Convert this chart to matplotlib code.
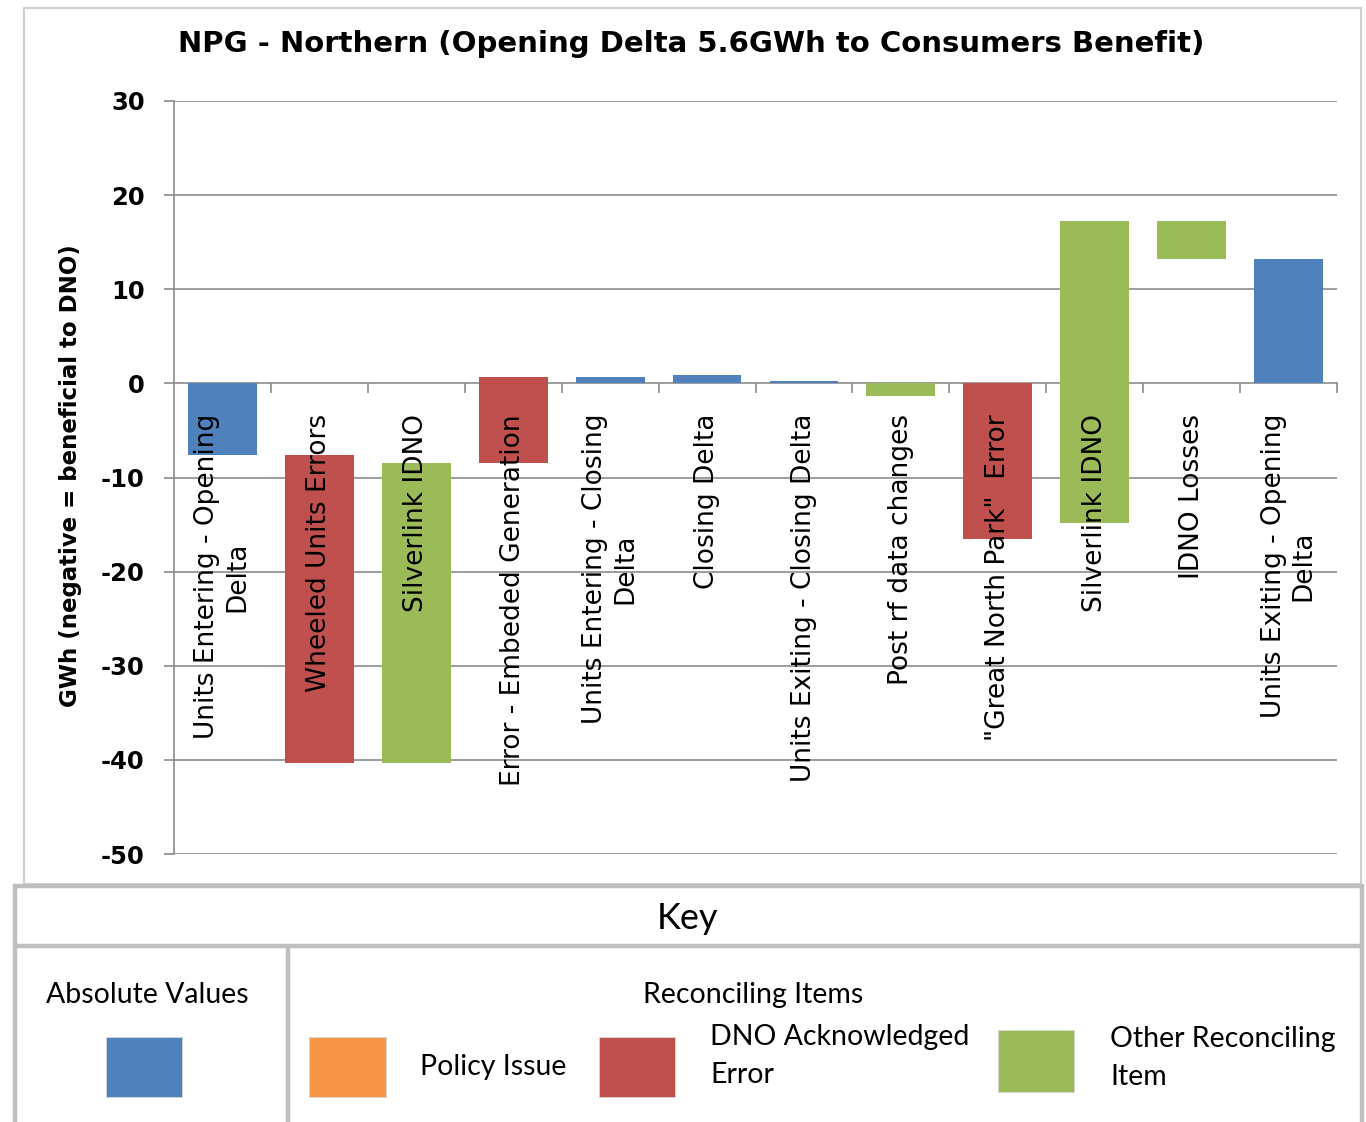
import matplotlib
matplotlib.use("Agg")
import matplotlib.pyplot as plt
from matplotlib.lines import Line2D
from matplotlib.patches import Rectangle

# ---------------- data ----------------
categories = [
    "Units Entering - Opening\nDelta",
    "Wheeled Units Errors",
    "Silverlink IDNO",
    "Error - Embeded Generation",
    "Units Entering - Closing\nDelta",
    "Closing Delta",
    "Units Exiting - Closing Delta",
    "Post rf data changes",
    "\"Great North Park\"  Error",
    "Silverlink IDNO",
    "IDNO Losses",
    "Units Exiting - Opening\nDelta",
]
bar_low = [-7.6, -40.3, -40.3, -8.45, 0.0, 0.0, 0.0, -1.35, -16.5, -14.85, 13.25, 0.0]
bar_high = [0.0, -7.6, -8.45, 0.7, 0.65, 0.85, 0.25, 0.0, 0.0, 17.25, 17.25, 13.25]
bar_kind = ["abs", "err", "other", "err", "abs", "abs", "abs", "other", "err", "other", "other", "abs"]

y_ticks = [-50, -40, -30, -20, -10, 0, 10, 20, 30]
title = "NPG - Northern (Opening Delta 5.6GWh to Consumers Benefit)"
y_label = "GWh (negative = beneficial to DNO)"

key_title = "Key"
key_abs_title = "Absolute Values"
key_rec_title = "Reconciling Items"
key_items = ["Policy Issue", "DNO Acknowledged\nError", "Other Reconciling\nItem"]

# ---------------- styles ----------------
colors = {"abs": "#4F81BD", "err": "#C0504D", "other": "#9BBB59", "policy": "#F79646"}
GRID = "#8c8c8c"
BORDER = "#bfbfbf"

W, H = 1366, 1122
def fx(x):
    return x / W
def fy(y):
    return 1 - y / H

fig = plt.figure(figsize=(W / 100, H / 100), dpi=100)
fig.patch.set_facecolor("white")

ax = fig.add_axes([fx(174), fy(854), fx(1337) - fx(174), fy(101) - fy(854)])
ax.set_facecolor("none")

x = list(range(len(categories)))
heights = [h - l for l, h in zip(bar_low, bar_high)]
ax.bar(x, heights, bottom=bar_low, width=0.71,
       color=[colors[k] for k in bar_kind], edgecolor="none", zorder=1)

ax.set_xlim(-0.5, len(categories) - 0.5)
ax.set_ylim(-50, 30)

# gridlines below bars
for t in y_ticks:
    if t != 0:
        ax.axhline(t, color=GRID, lw=1.2, zorder=0.5)

for s in ["top", "right"]:
    ax.spines[s].set_visible(False)
ax.spines["left"].set_color(GRID)
ax.spines["left"].set_linewidth(1.2)
ax.spines["bottom"].set_position(("data", 0))
ax.spines["bottom"].set_color(GRID)
ax.spines["bottom"].set_linewidth(1.2)
ax.spines["bottom"].set_zorder(0.6)

ax.set_yticks(y_ticks)
ax.set_yticklabels([str(t) for t in y_ticks], fontfamily="DejaVu Sans",
                   fontweight="bold", fontsize=17.5)
ax.tick_params(axis="y", direction="out", length=7.2, width=1.2, color=GRID, pad=14)

ax.set_xticks(x)
ax.set_xticklabels(categories, rotation=90, fontfamily="DejaVu Sans", fontsize=19)
for lbl in ax.get_xticklabels():
    lbl.set_multialignment("center")
ax.tick_params(axis="x", which="major", length=0, pad=22)
ax.set_xticks([i + 0.5 for i in x], minor=True)
ax.tick_params(axis="x", which="minor", direction="out", length=7.2, width=1.2, color=GRID)

# title & y label
fig.text(fx(691), fy(52), title, ha="center", va="baseline",
         fontfamily="DejaVu Sans", fontweight="bold", fontsize=21)
fig.text(fx(71), fy(476), y_label, ha="center", va="center", rotation=90,
         fontfamily="DejaVu Sans", fontweight="bold", fontsize=16.5)

# chart border
fig.add_artist(Rectangle((fx(24), fy(884)), fx(1361) - fx(24), fy(8) - fy(884),
                         transform=fig.transFigure, fill=False,
                         edgecolor="#d0d0d0", lw=1.5))

# ---------------- key table ----------------
def hline(y, x0, x1):
    fig.add_artist(Line2D([fx(x0), fx(x1)], [fy(y), fy(y)], transform=fig.transFigure,
                          color=BORDER, lw=3.2, solid_capstyle="butt"))
def vline(x0, y0, y1):
    fig.add_artist(Line2D([fx(x0), fx(x0)], [fy(y0), fy(y1)], transform=fig.transFigure,
                          color=BORDER, lw=3.2, solid_capstyle="butt"))

hline(886, 13, 1364)
hline(945.5, 13, 1364)
vline(15, 884, 1122)
vline(1362, 884, 1122)
vline(288, 945.5, 1122)

KF = "Lato"
fig.text(fx(688), fy(929), key_title, ha="center", va="baseline", fontfamily=KF, fontsize=26)
fig.text(fx(147), fy(1002.7), key_abs_title, ha="center", va="baseline", fontfamily=KF, fontsize=20.5)
fig.text(fx(753), fy(1002.7), key_rec_title, ha="center", va="baseline", fontfamily=KF, fontsize=20.5)

def swatch(x0, y0, x1, y1, c):
    fig.add_artist(Rectangle((fx(x0), fy(y1)), fx(x1) - fx(x0), fy(y0) - fy(y1),
                             transform=fig.transFigure, facecolor=c, edgecolor="#d8d8d8", lw=0.6))

swatch(106, 1037, 182, 1097, colors["abs"])
swatch(309, 1037, 386, 1097, colors["policy"])
swatch(599, 1037, 675, 1097, colors["err"])
swatch(998, 1030, 1074, 1092, colors["other"])

fig.text(fx(420), fy(1075), key_items[0], ha="left", va="baseline", fontfamily=KF, fontsize=20.5)
for i, line in enumerate(key_items[1].split("\n")):
    fig.text(fx(710), fy(1045 + 38 * i), line, ha="left", va="baseline", fontfamily=KF, fontsize=20.5)
for i, line in enumerate(key_items[2].split("\n")):
    fig.text(fx(1110), fy(1047 + 38 * i), line, ha="left", va="baseline", fontfamily=KF, fontsize=20.5)

fig.savefig("out.png", dpi=100, facecolor="white")
